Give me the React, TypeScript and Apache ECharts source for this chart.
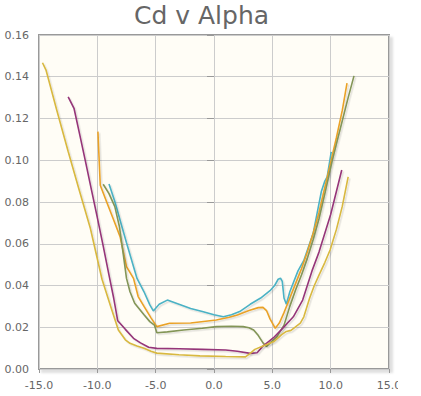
import React, { useEffect, useRef } from "react";
import * as echarts from "echarts";

const titleText = "Cd v Alpha";
const xTicks = { min: -15, max: 15, interval: 5 };
const yTicks = { min: 0, max: 0.16, interval: 0.02 };
const seriesColors = ["#4bb2c5", "#EAA228", "#839557", "#953579", "#d8b83f"];

const alpha1 = [-9.0, -8.5, -7.5, -6.6, -6.0, -5.5, -5.2, -4.7, -4.0, -3.0, -2.0, -1.0, 0.0, 0.8, 1.5, 2.2, 3.1, 4.0, 4.8, 5.2, 5.5, 5.7, 5.85, 6.0, 6.2, 6.5, 7.2, 7.7, 8.5, 9.2, 9.5, 9.7, 10.05];
const cd1 = [0.0886, 0.0802, 0.0605, 0.0434, 0.037, 0.0307, 0.0278, 0.031, 0.033, 0.031, 0.029, 0.0275, 0.026, 0.025, 0.026, 0.0275, 0.031, 0.034, 0.0375, 0.04, 0.043, 0.0435, 0.042, 0.034, 0.031, 0.037, 0.047, 0.052, 0.065, 0.085, 0.09, 0.092, 0.104];

const alpha2 = [-9.95, -9.75, -9.2, -8.6, -8.05, -7.5, -6.9, -6.5, -6.0, -5.4, -5.1, -4.9, -3.8, -2.0, 0.2, 1.3, 2.0, 3.0, 3.8, 4.2, 4.5, 4.8, 5.25, 5.6, 6.0, 6.5, 7.0, 7.5, 8.0, 8.5, 9.0, 9.5, 10.0, 10.5, 11.0, 11.4];
const cd2 = [0.1137, 0.088, 0.08, 0.0714, 0.0634, 0.049, 0.0434, 0.0347, 0.03, 0.0245, 0.022, 0.0203, 0.0219, 0.022, 0.0235, 0.0248, 0.0259, 0.028, 0.0294, 0.0295, 0.028, 0.024, 0.0195, 0.022, 0.027, 0.034, 0.041, 0.048, 0.056, 0.065, 0.075, 0.087, 0.099, 0.111, 0.124, 0.137];

const alpha3 = [-9.5, -9.0, -8.5, -8.1, -7.75, -7.5, -7.2, -6.8, -6.0, -5.5, -5.1, -4.9, -4.0, -2.6, -1.0, 0.2, 1.5, 2.5, 3.0, 3.4, 3.8, 4.2, 4.5, 4.9, 5.4, 6.0, 6.5, 7.0, 7.5, 8.0, 8.5, 9.0, 9.5, 10.1, 10.5, 11.0, 11.5, 12.0];
const cd3 = [0.0885, 0.084, 0.0778, 0.068, 0.0538, 0.0434, 0.037, 0.0315, 0.026, 0.0227, 0.021, 0.0174, 0.0178, 0.0187, 0.0195, 0.0203, 0.0205, 0.0203, 0.0198, 0.0187, 0.016, 0.0125, 0.0108, 0.013, 0.0155, 0.021, 0.03, 0.038, 0.045, 0.053, 0.062, 0.072, 0.084, 0.099, 0.108, 0.119, 0.13, 0.1404];

const alpha4 = [-12.5, -12.0, -11.5, -11.0, -10.5, -10.0, -9.5, -9.0, -8.6, -8.25, -7.6, -6.9, -6.3, -5.6, -4.9, -3.0, -1.0, 1.0, 2.0, 3.1, 3.7, 4.2, 5.1, 5.8, 6.8, 7.6, 8.4, 9.0, 10.0, 10.95];
const cd4 = [0.1304, 0.1249, 0.112, 0.099, 0.0857, 0.0725, 0.059, 0.045, 0.034, 0.0231, 0.019, 0.0147, 0.0125, 0.0104, 0.0099, 0.0097, 0.0094, 0.0091, 0.0085, 0.0075, 0.0078, 0.011, 0.015, 0.019, 0.025, 0.033, 0.047, 0.056, 0.074, 0.0953];

const alpha5 = [-14.7, -14.4, -13.5, -12.5, -11.6, -10.6, -9.6, -8.8, -8.2, -7.6, -7.2, -6.6, -6.0, -5.4, -4.9, -3.0, -1.2, 1.0, 2.7, 3.1, 3.5, 4.2, 5.1, 5.8, 6.2, 6.6, 7.4, 7.7, 8.2, 8.6, 9.0, 9.5, 9.95, 10.5, 11.0, 11.5];
const cd5 = [0.1467, 0.1432, 0.1244, 0.1042, 0.0866, 0.0674, 0.043, 0.029, 0.0187, 0.014, 0.0123, 0.011, 0.0099, 0.0085, 0.0076, 0.0068, 0.0063, 0.006, 0.0058, 0.0075, 0.0094, 0.011, 0.013, 0.0165, 0.018, 0.0185, 0.022, 0.025, 0.034, 0.04, 0.045, 0.051, 0.057, 0.067, 0.078, 0.092];

const alphaSets = [alpha1, alpha2, alpha3, alpha4, alpha5];
const cdSets = [cd1, cd2, cd3, cd4, cd5];

export default function App() {
  const ref = useRef<HTMLDivElement>(null);
  useEffect(() => {
    if (!ref.current) return;
    const chart = echarts.init(ref.current, undefined, { renderer: "svg" });
    const series = alphaSets.map((xs, i) => ({
      type: "line" as const,
      data: xs.map((x, j) => [x, cdSets[i][j]]),
      showSymbol: false,
      symbol: "none",
      lineStyle: {
        color: seriesColors[i],
        width: 1.6,
        shadowColor: "rgba(0,0,0,0.12)",
        shadowOffsetX: 1.5,
        shadowOffsetY: 1.5,
        shadowBlur: 1,
      },
      itemStyle: { color: seriesColors[i] },
      z: 3 + i,
    }));
    chart.setOption({
      animation: false,
      title: {
        text: titleText,
        left: 134,
        top: 3,
        padding: 0,
        textStyle: {
          fontFamily: "DejaVu Sans",
          fontSize: 25,
          fontWeight: "normal",
          color: "#666666",
        },
      },
      grid: {
        left: 39,
        right: 9,
        top: 35,
        bottom: 27,
        containLabel: false,
        outerBoundsMode: "none",
        show: true,
        backgroundColor: "#fffdf6",
        borderColor: "#999999",
        borderWidth: 2,
        shadowColor: "rgba(0,0,0,0.12)",
        shadowOffsetX: 3,
        shadowOffsetY: 3,
        shadowBlur: 2,
      },
      xAxis: {
        type: "value",
        min: xTicks.min,
        max: xTicks.max,
        interval: xTicks.interval,
        axisLine: { show: false },
        axisTick: { show: true, length: 4, lineStyle: { color: "#999999" } },
        splitLine: { show: true, lineStyle: { color: "#cccccc", width: 1 } },
        axisLabel: {
          margin: 11,
          color: "#666666",
          fontFamily: "DejaVu Sans",
          fontSize: 11,
          formatter: (v: number) => v.toFixed(1),
        },
      },
      yAxis: {
        type: "value",
        min: yTicks.min,
        max: yTicks.max,
        interval: yTicks.interval,
        axisLine: { show: false },
        axisTick: { show: true, length: 7, lineStyle: { color: "#999999" } },
        splitLine: { show: true, lineStyle: { color: "#cccccc", width: 1 } },
        axisLabel: {
          margin: 10,
          color: "#666666",
          fontFamily: "DejaVu Sans",
          fontSize: 11,
          formatter: (v: number) => v.toFixed(2),
        },
      },
      series,
    });
    return () => chart.dispose();
  }, []);
  return (
    <div
      style={{ position: "absolute", left: 0, top: 0, width: 421, height: 396, background: "#ffffff", overflow: "hidden" }}
    >
      <div ref={ref} style={{ width: 398, height: 396 }} />
    </div>
  );
}
